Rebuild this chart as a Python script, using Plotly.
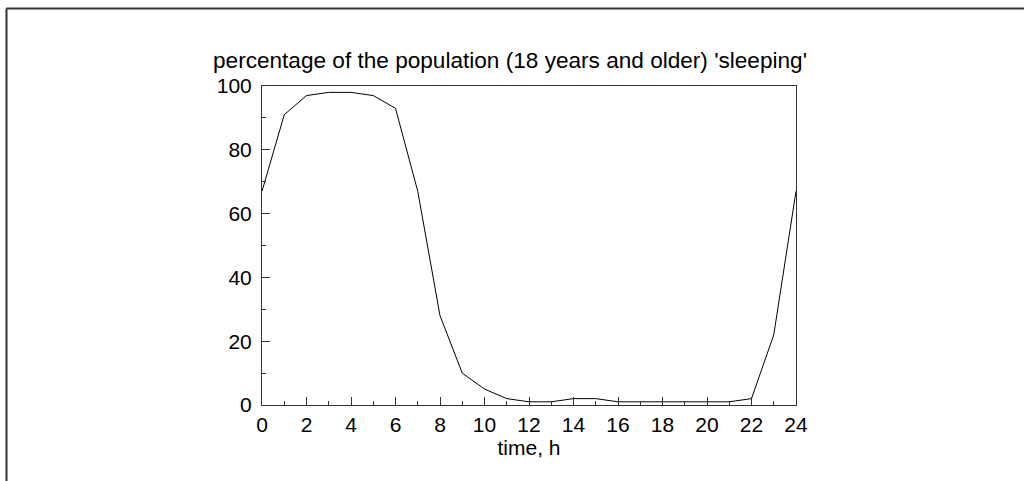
import plotly.graph_objects as go

# hours of the day and share of adults asleep (%)
hours = list(range(0, 25))
sleeping = [67, 91, 97, 98, 98, 97, 93, 67, 28, 10, 5, 2, 1, 1, 2, 2,
            1, 1, 1, 1, 1, 1, 2, 22, 67]

title_text = "percentage of the population (18 years and older) 'sleeping'"
x_label = "time, h"

font_name = "Liberation Sans, Arial, sans-serif"

# plot area in pixels
W, H = 1024, 481
left, right, top, bottom = 262, 796, 86, 405

fig = go.Figure()
fig.add_trace(go.Scatter(x=hours,
                         y=sleeping,
                         mode="lines",
                         line=dict(color="black", width=1),
                         hoverinfo="x+y",
                         showlegend=False))

# outer frame, only top and left visible in the window
fx = (6.5 - left) / (right - left)
fy = (bottom - 8.5) / (bottom - top)
fig.add_shape(type="line", xref="paper", yref="paper",
              x0=fx, x1=3, y0=fy, y1=fy,
              line=dict(color="#333333", width=2))
fig.add_shape(type="line", xref="paper", yref="paper",
              x0=fx, x1=fx, y0=fy, y1=-3,
              line=dict(color="#333333", width=2))

fig.add_annotation(text=title_text, xref="paper", yref="paper",
                   x=(510 - left) / (right - left),
                   y=(bottom - 61) / (bottom - top),
                   xanchor="center", yanchor="middle", showarrow=False,
                   font=dict(size=22.6, color="black", family=font_name))

fig.update_layout(width=W, height=H,
                  margin=dict(l=left, r=W - right, t=top, b=H - bottom),
                  paper_bgcolor="white",
                  plot_bgcolor="white",
                  font=dict(family=font_name, size=21, color="black"),
                  xaxis=dict(range=[0, 24],
                             dtick=2,
                             ticks="inside",
                             ticklen=8,
                             tickcolor="#333333",
                             tickfont=dict(size=21),
                             ticklabelstandoff=1,
                             showgrid=False,
                             zeroline=False,
                             showline=True,
                             linecolor="#333333",
                             linewidth=1,
                             mirror=True,
                             minor=dict(dtick=1, ticks="inside", ticklen=4,
                                        tickcolor="#333333"),
                             title=dict(text=x_label, standoff=1,
                                        font=dict(size=21))),
                  yaxis=dict(range=[0, 100],
                             dtick=20,
                             ticks="inside",
                             ticklen=8,
                             tickcolor="#333333",
                             tickfont=dict(size=21),
                             ticklabelstandoff=5,
                             showgrid=False,
                             zeroline=False,
                             showline=True,
                             linecolor="#333333",
                             linewidth=1,
                             mirror=True,
                             minor=dict(dtick=10, ticks="inside", ticklen=4,
                                        tickcolor="#333333")))

fig.write_html("out.html",
               config={"displayModeBar": False},
               post_script="document.body.style.margin='0';"
                           "document.body.style.overflow='hidden';")
